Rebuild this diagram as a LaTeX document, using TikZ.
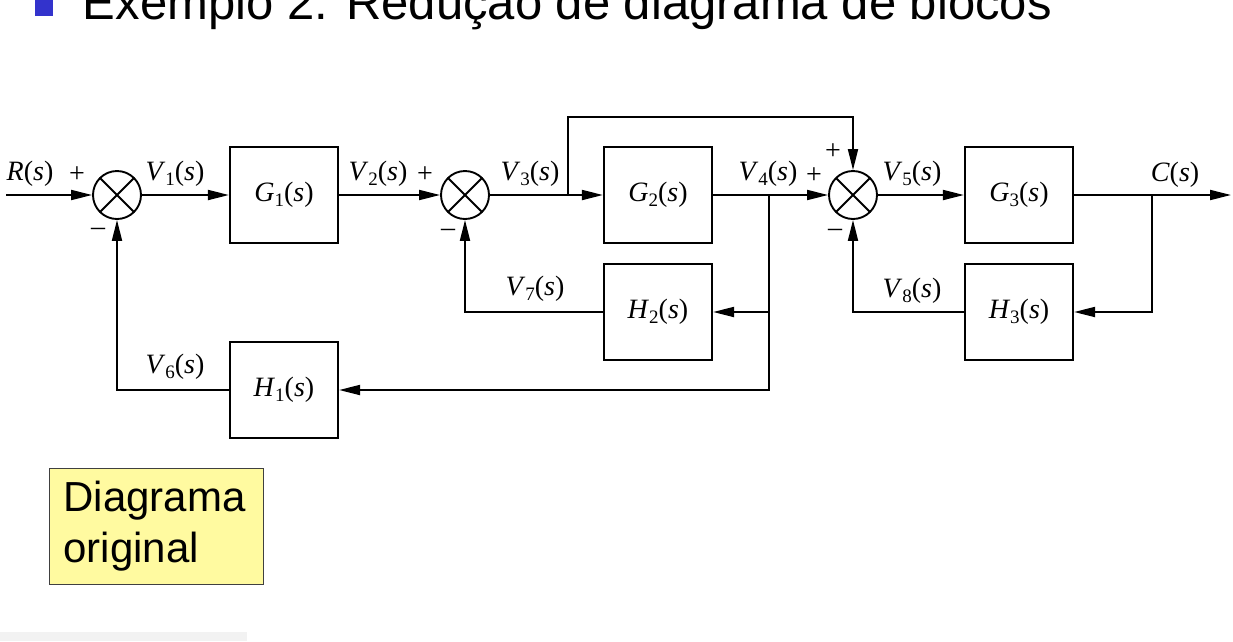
\documentclass[tikz,border=0pt]{standalone}
\usepackage{fontspec}
\newfontfamily\slidefont{Liberation Sans}
\newfontfamily\bookfont{Liberation Serif}
\usetikzlibrary{arrows.meta,positioning,calc}
\definecolor{bulletblue}{RGB}{51,51,204}
\definecolor{noteyellow}{RGB}{255,250,160}
\newcommand{\sigfont}{\bookfont\fontsize{28}{32}\selectfont}
\newcommand{\tfn}[2]{\textit{#1}\raisebox{-0.35ex}{\fontsize{19}{19}\selectfont #2}(\textit{s})}

\begin{document}
\begin{tikzpicture}[
  x=1pt, y=-1pt,
  line width=1.9pt,
  block/.style={
    draw,
    line width=2.2pt,
    minimum width=108pt,
    minimum height=96pt,
    inner sep=0pt,
    font=\sigfont
  },
  sumjunction/.style={
    circle, draw,
    minimum size=48pt,
    inner sep=0pt,
    path picture={
      \draw (path picture bounding box.north west) -- (path picture bounding box.south east)
            (path picture bounding box.south west) -- (path picture bounding box.north east);
    }
  },
  sig/.style={font=\sigfont, inner sep=0pt},
  flow/.style={-{Triangle[length=21pt,width=10pt]}},
  note/.style={
    draw=black!75, line width=1.2pt, fill=noteyellow,
    minimum width=214pt, minimum height=116pt,
    text width=186pt, align=left, inner xsep=14pt,
    font=\slidefont\fontsize{42}{51}\selectfont
  }
]
\useasboundingbox (0,0) rectangle (1233,641);
\clip (0,0) rectangle (1233,641);

\node[fill=bulletblue, minimum size=18pt, inner sep=0pt, anchor=south west] (bullet) at (34,17) {};
\node[font=\slidefont\fontsize{49}{58}\selectfont, inner sep=0pt, anchor=base west] (title) at (82,19)
  {Exemplo 2. Redução de diagrama de blocos};

\coordinate (in) at (6,195);
\node[sumjunction] (sum1) at (117,195) {};
\node[block] (g1) at (284,195) {\tfn{G}{1}};
\node[sumjunction] (sum2) at (465,195) {};
\node[block] (g2) at (658,195) {\tfn{G}{2}};
\node[sumjunction] (sum3) at (853,195) {};
\node[block] (g3) at (1019,195) {\tfn{G}{3}};
\coordinate (out) at (1231,195);

\node[block] (h2) at (658,312) {\tfn{H}{2}};
\node[block] (h3) at (1019,312) {\tfn{H}{3}};
\node[block] (h1) at (284,390) {\tfn{H}{1}};

\coordinate (branch-v3) at (568,195);
\coordinate (branch-v4) at (769,195);
\coordinate (branch-c) at (1152,195);
\coordinate (bypass) at (853,117);

\draw[flow] (in) -- (sum1.west);
\draw[flow] (sum1.east) -- (g1.west);
\draw[flow] (g1.east) -- (sum2.west);
\draw[flow] (sum2.east) -- (g2.west);
\draw[flow] (g2.east) -- (sum3.west);
\draw[flow] (sum3.east) -- (g3.west);
\draw[flow] (g3.east) -- (out);

\draw[flow] (branch-v3) |- (bypass) -- (sum3.north);
\draw[flow] (branch-v4) |- (h2.east);
\draw[flow] (branch-v4) |- (h1.east);
\draw[flow] (branch-c) |- (h3.east);
\draw[flow] (h2.west) -| (sum2.south);
\draw[flow] (h3.west) -| (sum3.south);
\draw[flow] (h1.west) -| (sum1.south);

\node[sig] (r-label) at (30,174) {\textit{R}(\textit{s})};
\node[sig] (v1-label) at (175,174) {\tfn{V}{1}};
\node[sig] (v2-label) at (378,174) {\tfn{V}{2}};
\node[sig] (v3-label) at (530,174) {\tfn{V}{3}};
\node[sig] (v4-label) at (768,174) {\tfn{V}{4}};
\node[sig] (v5-label) at (912,174) {\tfn{V}{5}};
\node[sig] (c-label) at (1175,175) {\textit{C}(\textit{s})};
\node[sig] (v6-label) at (175,367) {\tfn{V}{6}};
\node[sig] (v7-label) at (535,289) {\tfn{V}{7}};
\node[sig] (v8-label) at (912,291) {\tfn{V}{8}};

\node[sig] (sum1-plus) at (77,175) {+};
\node[sig] (sum1-minus) at (98,232) {–};
\node[sig] (sum2-plus) at (425,175) {+};
\node[sig] (sum2-minus) at (448,233) {–};
\node[sig] (sum3-plus) at (814,176) {+};
\node[sig] (sum3-top) at (833,152) {+};
\node[sig] (sum3-minus) at (835,233) {–};

\node[note, anchor=north west] (caption) at (49,468) {Diagrama\\original};

\fill[black!5] (0,632) rectangle (247,641);
\end{tikzpicture}
\end{document}
